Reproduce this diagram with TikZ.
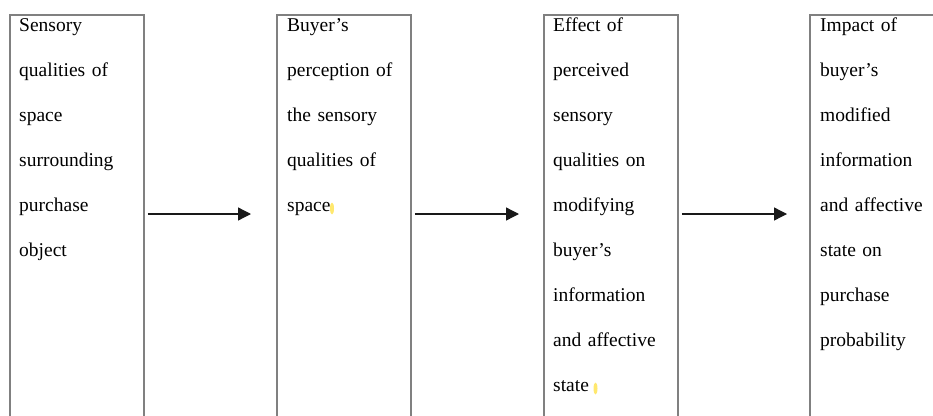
\documentclass[tikz,border=0pt]{standalone}
\usepackage{fontspec}
\setmainfont{Liberation Serif}
\usetikzlibrary{arrows.meta,calc}
\definecolor{boxgray}{RGB}{128,128,128}
\definecolor{hiyellow}{RGB}{255,232,110}
\begin{document}
\begin{tikzpicture}[x=1pt,y=-1pt,
  stage/.style={draw=boxgray, line width=1.8pt, rectangle, minimum width=134pt,
    minimum height=440pt, anchor=north west, inner sep=0pt},
  caption/.style={anchor=north west, inner sep=0pt, text width=124pt, align=left,
    font=\fontsize{19.5}{45}\selectfont},
  flow/.style={line width=1.3pt, draw=black!90, -{Triangle[length=13pt,width=13pt]}},
  hilite/.style={fill=hiyellow, draw=none}
]
\useasboundingbox (0,0) rectangle (933,415);

% the four stages, open at the bottom
\node[stage] (b1) at (9,14) {};
\node[stage] (b2) at (276,14) {};
\node[stage] (b3) at (543,14) {};
\node[stage] (b4) at (809,14) {};

% stage texts
\node[caption] (t1) at ($(b1.north west)+(10,3.5)$)
  {\rule{0pt}{14pt}Sensory\\qualities of\\space\\surrounding\\purchase\\object};
\node[caption] (t2) at ($(b2.north west)+(11,3.5)$)
  {\rule{0pt}{14pt}Buyer’s\\perception of\\the sensory\\qualities of\\space};
\node[caption] (t3) at ($(b3.north west)+(10,3.5)$)
  {\rule{0pt}{14pt}Effect of\\perceived\\sensory\\qualities on\\modifying\\buyer’s\\information\\and affective\\state};
\node[caption] (t4) at ($(b4.north west)+(11,3.5)$)
  {\rule{0pt}{14pt}Impact of\\buyer’s\\modified\\information\\and affective\\state on\\purchase\\probability};

% small highlight marks after two words
\fill[hilite] (332,208.5) ellipse [x radius=2pt, y radius=6pt];
\fill[hilite] (595.5,388.5) ellipse [x radius=2pt, y radius=6pt];

% arrows between stages
\draw[flow] ($(b1.north east)+(3,200)$) -- ($(b2.north west)+(-25,200)$);
\draw[flow] ($(b2.north east)+(3,200)$) -- ($(b3.north west)+(-24,200)$);
\draw[flow] ($(b3.north east)+(3,200)$) -- ($(b4.north west)+(-22,200)$);
\end{tikzpicture}
\end{document}
